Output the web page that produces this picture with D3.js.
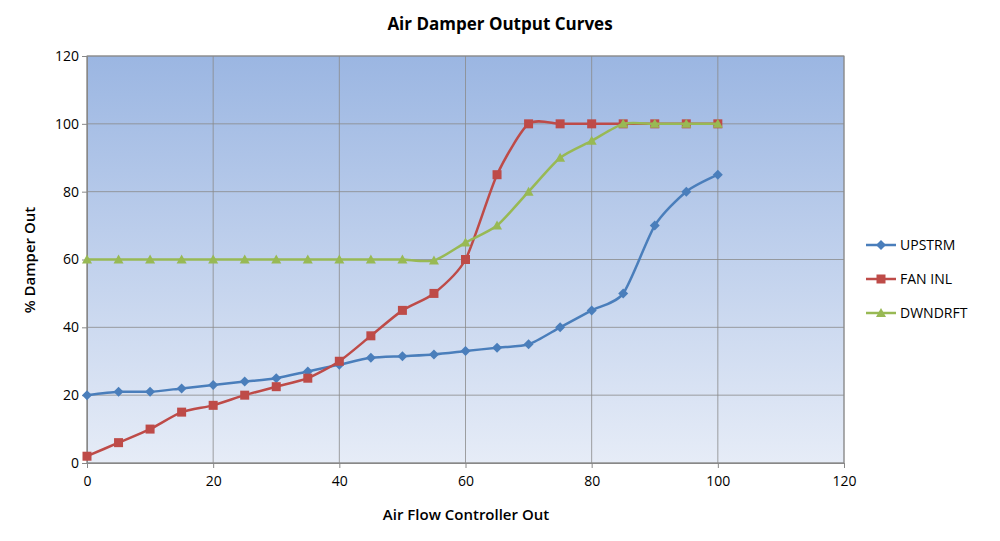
<!DOCTYPE html>
<html><head><meta charset="utf-8">
<script src="https://cdn.jsdelivr.net/npm/d3@7"></script>
<style>body{margin:0;background:#fff;font-family:"Open Sans",Calibri,sans-serif}</style>
</head><body><svg id="c" width="1000" height="541"></svg>
<script>
const xs = [0,5,10,15,20,25,30,35,40,45,50,55,60,65,70,75,80,85,90,95,100];
const upstrm = [20,21,21,22,23,24,25,27,29,31,31.5,32,33,34,35,40,45,50,70,80,85];
const fanInl = [2,6,10,15,17,20,22.5,25,30,37.5,45,50,60,85,100,100,100,100,100,100,100];
const dwndrft = [60,60,60,60,60,60,60,60,60,60,60,59.7,65,70,80,90,95,100,100,100,100];
const xTicks = [0,20,40,60,80,100,120];
const yTicks = [0,20,40,60,80,100,120];
const seriesNames = ["UPSTRM","FAN INL","DWNDRFT"];
const colors = ["#4a7ebb","#be4b48","#98b954"];
const svg = d3.select("#c");
const L=87,R=844,T=56,B=463;
const x=d3.scaleLinear().domain([0,120]).range([L,R]);
const y=d3.scaleLinear().domain([0,120]).range([B,T]);
const g=svg.append("defs").append("linearGradient").attr("id","bg").attr("x1",0).attr("y1",0).attr("x2",0).attr("y2",1);
g.append("stop").attr("offset","0%").attr("stop-color","#9bb6e2");
g.append("stop").attr("offset","100%").attr("stop-color","#e6ecf7");
svg.append("rect").attr("x",L).attr("y",T).attr("width",R-L).attr("height",B-T).attr("fill","url(#bg)");
svg.append("g").selectAll("line").data(xTicks).join("line").attr("x1",d=>x(d)).attr("x2",d=>x(d)).attr("y1",T).attr("y2",B).attr("stroke","#8a8a8a").attr("stroke-width",0.8);
svg.append("g").selectAll("line").data(yTicks).join("line").attr("x1",L).attr("x2",R).attr("y1",d=>y(d)).attr("y2",d=>y(d)).attr("stroke","#8a8a8a").attr("stroke-width",0.8);
svg.append("rect").attr("x",L).attr("y",T).attr("width",R-L).attr("height",B-T).attr("fill","none").attr("stroke","#888");
const xa=svg.append("g").attr("transform",`translate(0,${B})`).call(d3.axisBottom(x).tickValues(xTicks).tickSize(5));
const ya=svg.append("g").attr("transform",`translate(${L},0)`).call(d3.axisLeft(y).tickValues(yTicks).tickSize(5));
[xa,ya].forEach(a=>{a.selectAll("text").attr("font-size",14).attr("fill","#000").attr("font-family","Open Sans");a.selectAll("path,line").attr("stroke","#888");});
xa.selectAll("text").attr("dy","1.1em");
const data=[upstrm,fanInl,dwndrft];
const line=d3.line().x((d,i)=>x(xs[i])).y(d=>y(d)).curve(d3.curveCardinal.tension(0.3));
data.forEach((s,k)=>{
 svg.append("path").attr("d",line(s)).attr("fill","none").attr("stroke",colors[k]).attr("stroke-width",2.5);
 const m=svg.append("g");
 s.forEach((v,i)=>{
  const cx=x(xs[i]),cy=y(v);
  if(k==0) m.append("path").attr("d",`M${cx},${cy-5}L${cx+5},${cy}L${cx},${cy+5}L${cx-5},${cy}Z`).attr("fill",colors[k]);
  else if(k==1) m.append("rect").attr("x",cx-4.5).attr("y",cy-4.5).attr("width",9).attr("height",9).attr("fill",colors[k]);
  else m.append("path").attr("d",`M${cx},${cy-5}L${cx+5},${cy+4}L${cx-5},${cy+4}Z`).attr("fill",colors[k]);
 });
});
seriesNames.forEach((n,k)=>{
 const ly=245+k*34;
 svg.append("line").attr("x1",866).attr("x2",896).attr("y1",ly).attr("y2",ly).attr("stroke",colors[k]).attr("stroke-width",2.5);
 const cx=881,cy=ly;
 if(k==0) svg.append("path").attr("d",`M${cx},${cy-5}L${cx+5},${cy}L${cx},${cy+5}L${cx-5},${cy}Z`).attr("fill",colors[k]);
 else if(k==1) svg.append("rect").attr("x",cx-4.5).attr("y",cy-4.5).attr("width",9).attr("height",9).attr("fill",colors[k]);
 else svg.append("path").attr("d",`M${cx},${cy-5}L${cx+5},${cy+4}L${cx-5},${cy+4}Z`).attr("fill",colors[k]);
 svg.append("text").attr("x",900).attr("y",ly+5).attr("font-size",14).text(n);
});
svg.append("text").attr("x",500).attr("y",30).attr("text-anchor","middle").attr("font-size",17).attr("font-weight","bold").text("Air Damper Output Curves");
svg.append("text").attr("x",466).attr("y",520).attr("text-anchor","middle").attr("font-size",15).attr("font-weight","600").text("Air Flow Controller Out");
svg.append("text").attr("transform","translate(35,260) rotate(-90)").attr("text-anchor","middle").attr("font-size",15).attr("font-weight","600").text("% Damper Out");
</script></body></html>
